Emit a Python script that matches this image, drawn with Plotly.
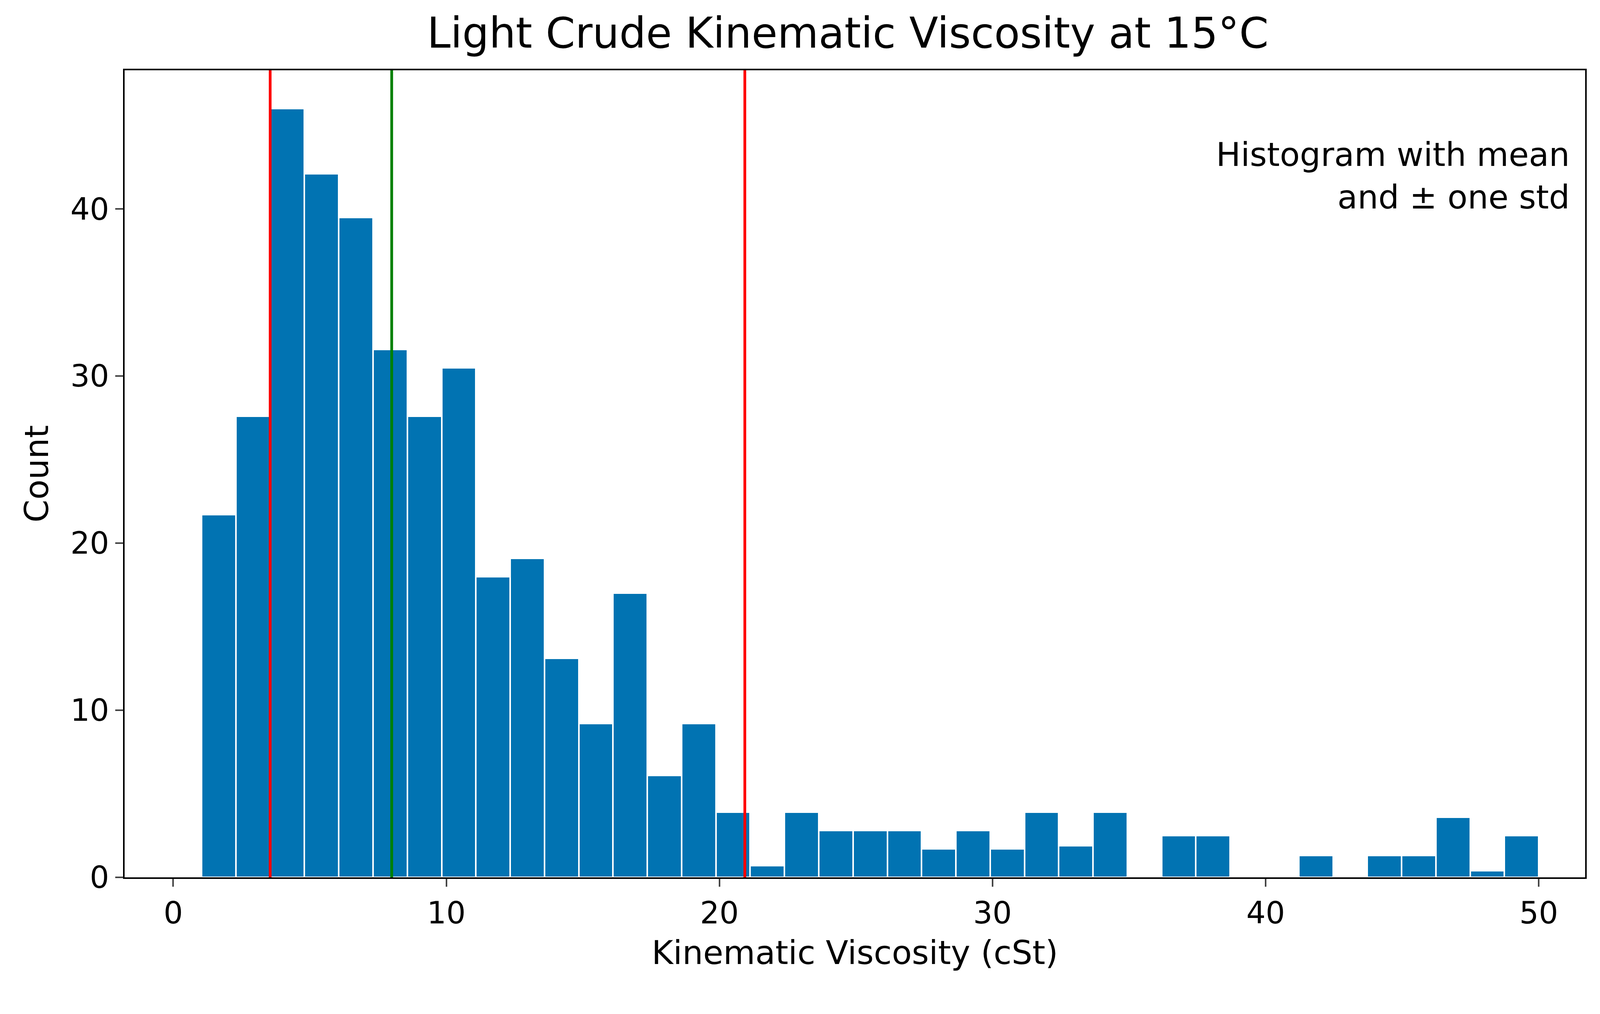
import plotly.graph_objs as go

# histogram bins (39 equal bins from ~1.04 to 50 cSt), weighted counts
bin_start = 1.04
bin_end = 50.0
counts = [21.7, 27.6, 46.0, 42.1, 39.5, 31.6, 27.6, 30.5, 18.0, 19.1,
          13.1, 9.2, 17.0, 6.1, 9.2, 3.9, 0.7, 3.9, 2.8, 2.8,
          2.8, 1.7, 2.8, 1.7, 3.9, 1.9, 3.9, 0.0, 2.5, 2.5,
          0.0, 0.1, 1.3, 0.1, 1.3, 1.3, 3.6, 0.4, 2.5]
mean_val = 8.0
std_lines = [3.55, 20.93]

n = len(counts)
w = (bin_end - bin_start) / n
centers = [bin_start + w * (i + 0.5) for i in range(n)]

fig = go.Figure()
fig.add_trace(go.Bar(x=centers, y=counts, width=w,
                     marker=dict(color='#0173B2', line=dict(color='white', width=4))))

for v in std_lines:
    fig.add_vline(x=v, line=dict(color='red', width=7))
fig.add_vline(x=mean_val, line=dict(color='green', width=7))

fig.add_annotation(x=0.99, y=0.92, xref='paper', yref='paper', xanchor='right', yanchor='top',
                   text='Histogram with mean<br>and ± one std', showarrow=False, align='right',
                   font=dict(size=84, color='black'))

fig.update_layout(
    autosize=True,
    title=dict(text='Light Crude Kinematic Viscosity at 15°C', x=0.53, xanchor='center',
               y=0.985, yanchor='top', font=dict(size=108, color='black')),
    font=dict(family='DejaVu Sans', color='black'),
    plot_bgcolor='white', paper_bgcolor='white',
    margin=dict(l=311, r=30, t=172, b=342),
    showlegend=False, bargap=0,
    xaxis=dict(range=[-1.78, 51.7], tickvals=[0, 10, 20, 30, 40, 50], ticks='outside',
               ticklen=20, tickwidth=4, tickfont=dict(size=78), showgrid=False, zeroline=False,
               showline=True, linecolor='black', linewidth=4, mirror=True,
               title=dict(text='Kinematic Viscosity (cSt)', font=dict(size=84), standoff=30)),
    yaxis=dict(range=[0, 48.3], tickvals=[0, 10, 20, 30, 40], ticks='outside',
               ticklen=20, tickwidth=4, tickfont=dict(size=78), showgrid=False, zeroline=False,
               showline=True, linecolor='black', linewidth=4, mirror=True,
               title=dict(text='Count', font=dict(size=84), standoff=30)),
)

fig.write_html("out.html", default_width='100%', default_height='100%')
